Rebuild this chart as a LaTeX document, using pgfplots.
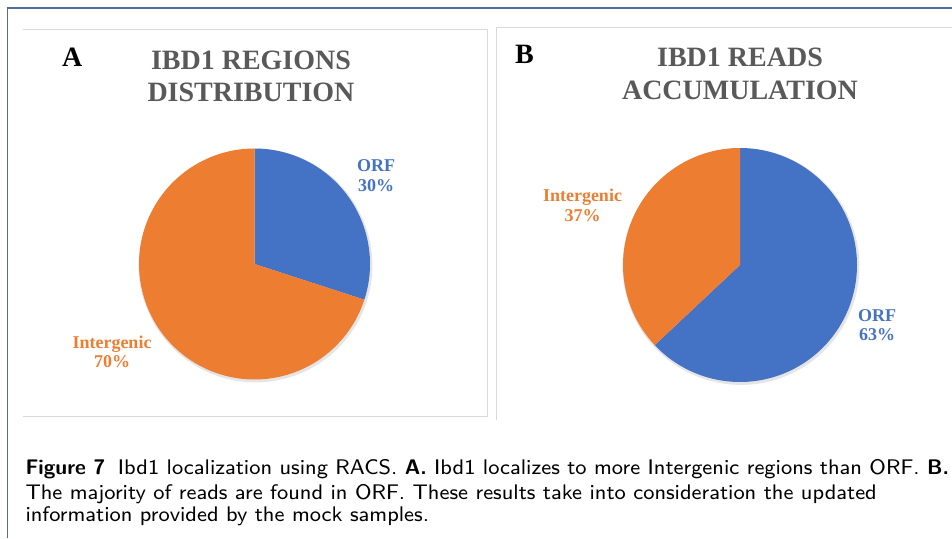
\documentclass[border=0pt]{standalone}
\usepackage{pgfplots}
\pgfplotsset{compat=1.18}
\usepgfplotslibrary{polar}
\usepackage{pgfplotstable}
\usepackage{fontspec}
\setmainfont{Liberation Serif}
\definecolor{orfblue}{HTML}{4472C4}
\definecolor{interorange}{HTML}{ED7D31}
\definecolor{titlegrey}{HTML}{595959}
\definecolor{framegrey}{HTML}{D9D9D9}
\definecolor{outerblue}{HTML}{4F6E9A}

\pgfplotstableread{
region pct
ORF 30
Intergenic 70
}\dataA
\pgfplotstableread{
region pct
ORF 63
Intergenic 37
}\dataB

\pgfplotsset{pieax/.style={hide axis, scale only axis, width=#1, height=#1,
  ymin=0, ymax=1, xmin=0, xmax=360, anchor=origin, clip=false}}

\begin{document}
\pgfplotstablegetelem{0}{pct}\of\dataA \edef\orfA{\pgfplotsretval}%
\pgfplotstablegetelem{0}{pct}\of\dataB \edef\orfB{\pgfplotsretval}%
\pgfmathsetmacro\angA{90-3.6*\orfA}%
\pgfmathsetmacro\angB{90-3.6*\orfB}%
\begin{tikzpicture}[x=1pt,y=1pt]
\useasboundingbox (0,0) rectangle (952,538);
% outer frame
\draw[outerblue, line width=1.3pt] (7.5,0) -- (7.5,530) -- (952,530);
% panel frames
\draw[framegrey, line width=1pt] (23,508) -- (487,508) -- (487,121) -- (23,121);
\draw[framegrey, line width=1pt] (496,118) -- (496,510) -- (952,510);

% Panel A
\begin{polaraxis}[pieax=231pt, at={(254.5pt,274pt)}]
\addplot[draw=none, fill=black, fill opacity=0.10, domain=0:360, samples=180, shift={(1pt,-1.5pt)}] {1.012} -- cycle;
\addplot[draw=none, fill=orfblue, domain=\angA:90, samples=80] {1} -- (axis cs:0,0) -- cycle;
\addplot[draw=none, fill=interorange, domain=-270:\angA, samples=160] {1} -- (axis cs:0,0) -- cycle;
\end{polaraxis}
% Panel B
\begin{polaraxis}[pieax=234pt, at={(740pt,273pt)}]
\addplot[draw=none, fill=black, fill opacity=0.10, domain=0:360, samples=180, shift={(1pt,-1.5pt)}] {1.012} -- cycle;
\addplot[draw=none, fill=orfblue, domain=\angB:90, samples=140] {1} -- (axis cs:0,0) -- cycle;
\addplot[draw=none, fill=interorange, domain=-270:\angB, samples=100] {1} -- (axis cs:0,0) -- cycle;
\end{polaraxis}

% letters and titles
\node[anchor=base west, inner sep=0, font=\fontsize{28}{32}\selectfont\bfseries] at (62,471.3) {A};
\node[anchor=base west, inner sep=0, font=\fontsize{28}{32}\selectfont\bfseries] at (515,474) {B};
\begin{scope}[every node/.style={anchor=base, inner sep=0, text=titlegrey, font=\fontsize{28}{32}\selectfont\bfseries}]
\node at (251,468.5) {IBD1 REGIONS};
\node at (251,436.3) {DISTRIBUTION};
\node at (740,471.3) {IBD1 READS};
\node at (740,438) {ACCUMULATION};
\end{scope}
% pie labels
\begin{scope}[every node/.style={anchor=base, inner sep=0, font=\fontsize{18}{20}\selectfont\bfseries}]
\node[text=orfblue] at (376,366.3) {ORF};
\node[text=orfblue] at (376,346.3) {30\%};
\node[text=interorange] at (112,189) {Intergenic};
\node[text=interorange] at (112,170) {70\%};
\node[text=interorange] at (582.5,336.3) {Intergenic};
\node[text=interorange] at (582.5,316.3) {37\%};
\node[text=orfblue] at (877,216.3) {ORF};
\node[text=orfblue] at (877,197.3) {63\%};
\end{scope}
% caption
\begin{scope}[every node/.style={anchor=base west, inner sep=0, scale=2.64, font=\fontsize{8}{10}\selectfont\sffamily}]
\node at (25,64) {\textbf{Figure 7}\hspace{0.6em}Ibd1 localization using RACS. \textbf{A.} Ibd1 localizes to more Intergenic regions than ORF. \textbf{B.}};
\node at (25,39) {The majority of reads are found in ORF. These results take into consideration the updated};
\node at (25,16.3) {information provided by the mock samples.};
\end{scope}
\end{tikzpicture}
\end{document}
